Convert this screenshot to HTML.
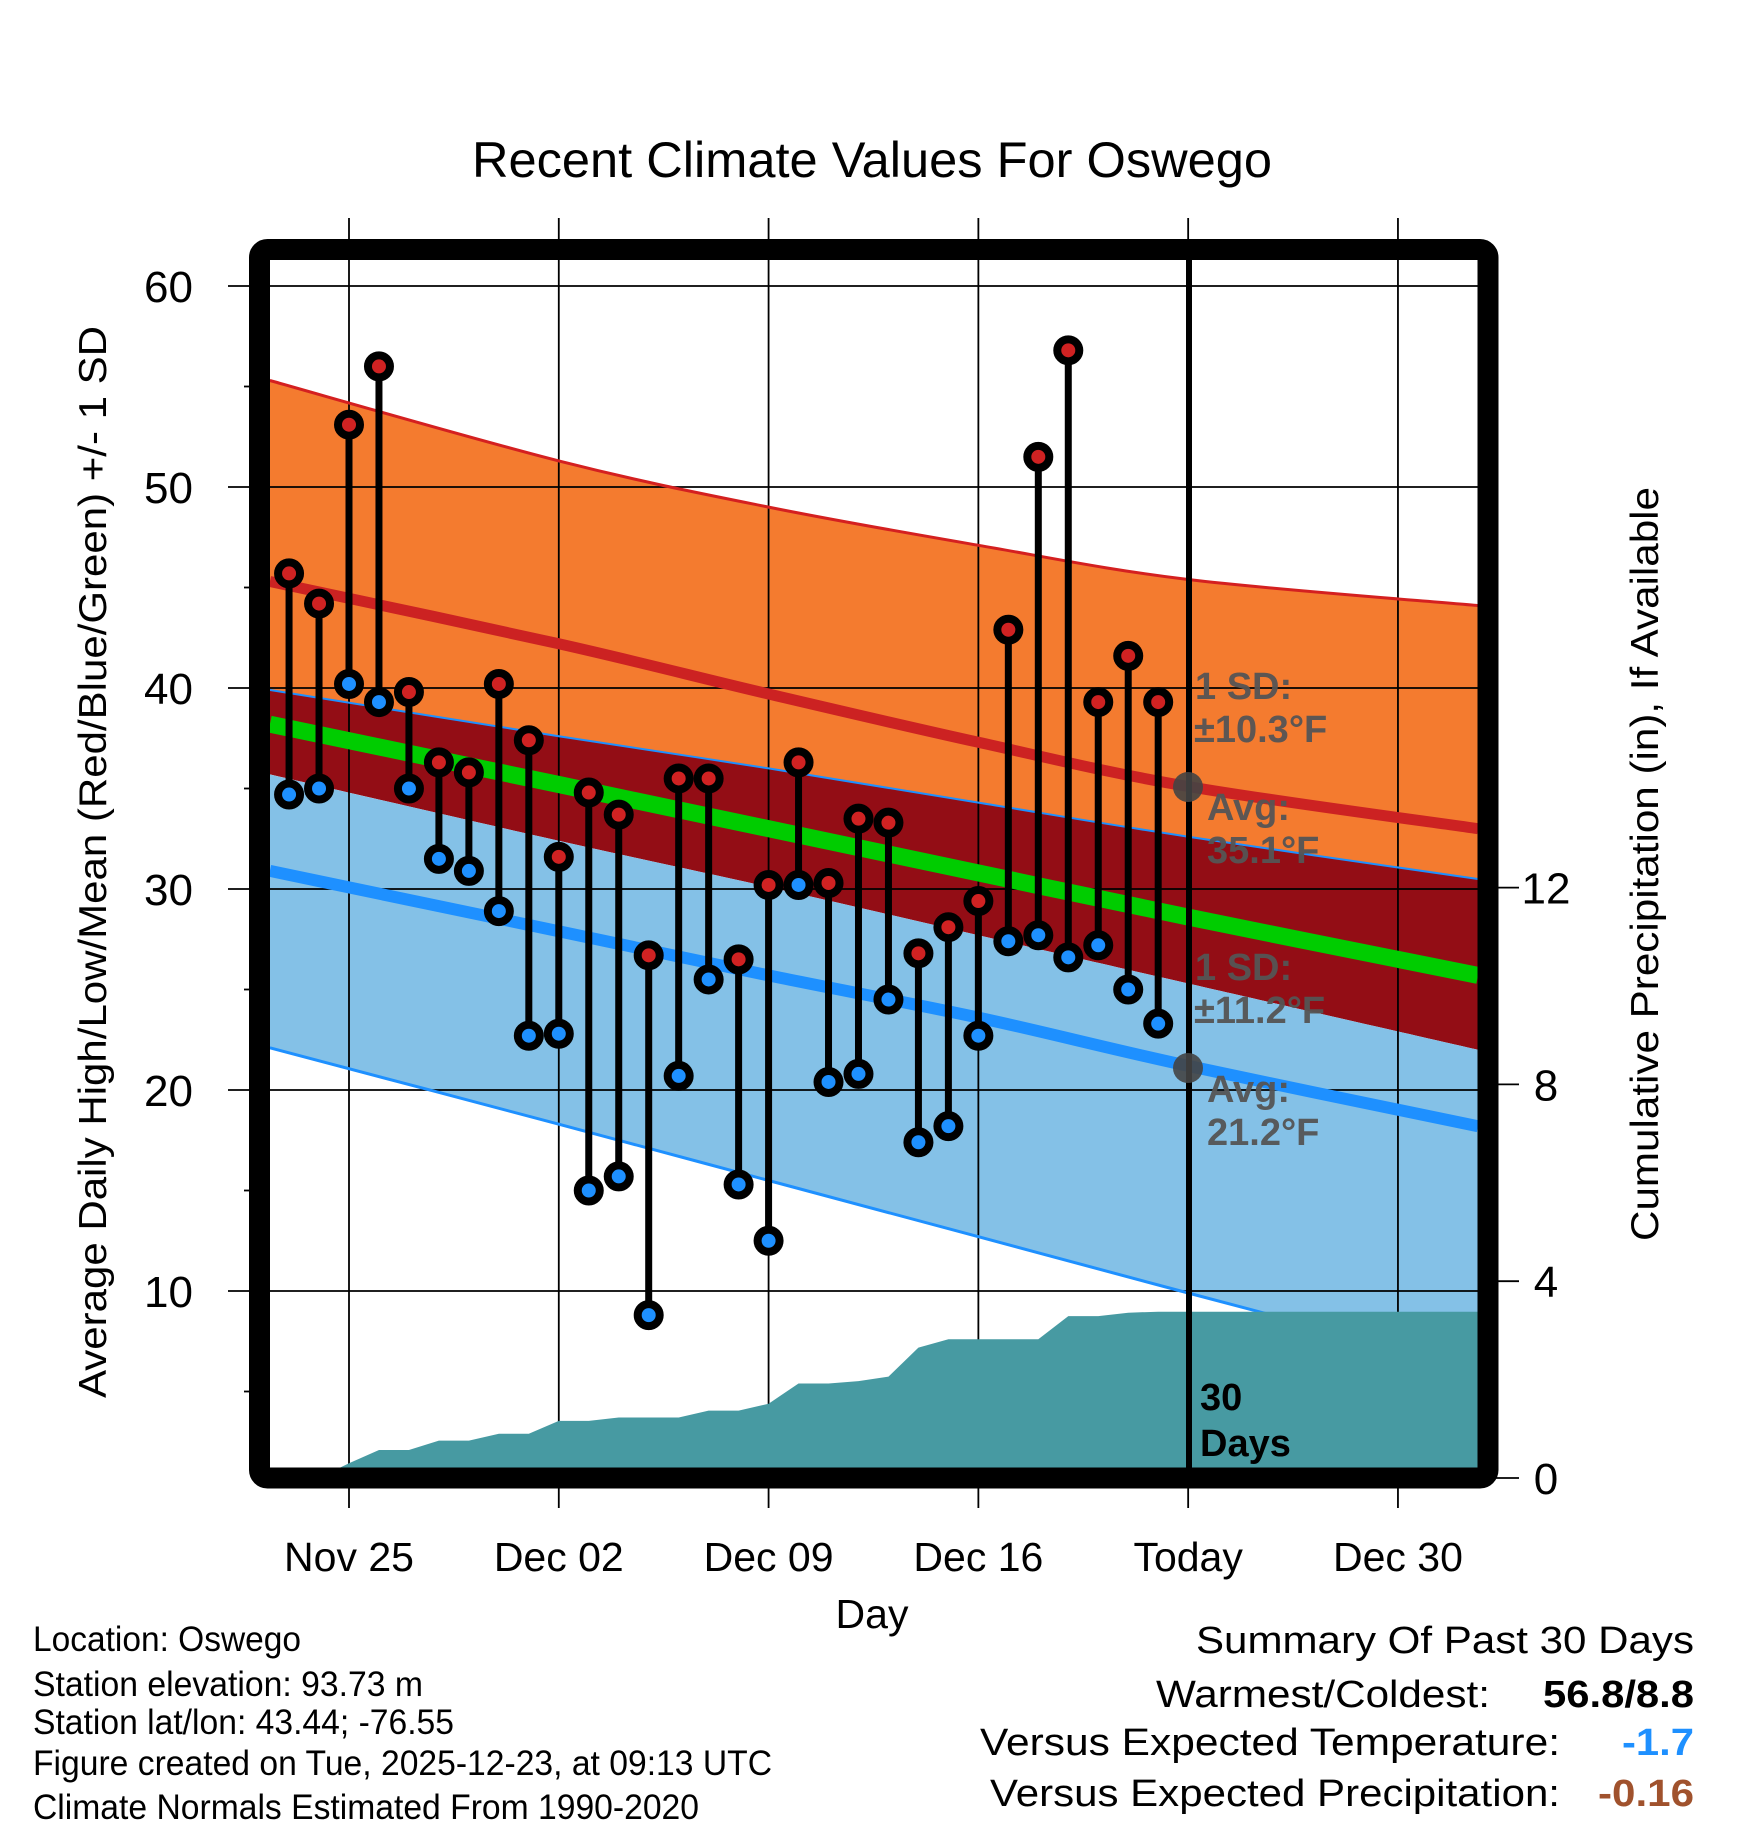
<!DOCTYPE html>
<html><head><meta charset="utf-8"><style>
html,body{margin:0;padding:0;background:#fff}
svg{display:block;font-family:"Liberation Sans",sans-serif}
</style></head><body>
<svg id="chart" width="1748" height="1828" viewBox="0 0 1748 1828" xmlns="http://www.w3.org/2000/svg">
<defs><clipPath id="plotclip"><rect x="270" y="260" width="1208" height="1208"/></clipPath></defs>
<text x="872" y="177" font-size="50" text-anchor="middle" textLength="800" lengthAdjust="spacingAndGlyphs">Recent Climate Values For Oswego</text>
<g id="bands" clip-path="url(#plotclip)"></g>
<g id="grid"></g>
<g id="lines" clip-path="url(#plotclip)"></g>
<g id="precip" clip-path="url(#plotclip)"></g>
<g id="temps"></g>
<g id="annot">
  <line x1="1189" y1="260" x2="1189" y2="1468" stroke="#000" stroke-width="6"/>
  <circle cx="1188" cy="787" r="15" fill="#444" opacity="0.9"/>
  <circle cx="1188" cy="1068" r="15" fill="#444" opacity="0.9"/>
  <g fill="#555" font-weight="bold" font-size="38" opacity="0.95">
    <text x="1195" y="699">1 SD:</text>
    <text x="1194" y="742">±10.3°F</text>
    <text x="1207" y="820">Avg:</text>
    <text x="1207" y="863">35.1°F</text>
    <text x="1195" y="980">1 SD:</text>
    <text x="1194" y="1023">±11.2°F</text>
    <text x="1207" y="1102">Avg:</text>
    <text x="1207" y="1145">21.2°F</text>
  </g>
  <text x="1200" y="1410" font-size="38" font-weight="bold">30</text>
  <text x="1200" y="1456" font-size="38" font-weight="bold">Days</text>
</g>
<rect x="259.5" y="249.5" width="1228.5" height="1228.5" rx="8" fill="none" stroke="#000" stroke-width="21"/>
<g id="axes"></g>
<text transform="translate(106,862) rotate(-90)" font-size="39" text-anchor="middle" textLength="1072" lengthAdjust="spacingAndGlyphs">Average Daily High/Low/Mean (Red/Blue/Green) +/- 1 SD</text>
<text transform="translate(1658,864) rotate(-90)" font-size="39" text-anchor="middle" textLength="754" lengthAdjust="spacingAndGlyphs">Cumulative Precipitation (in), If Available</text>
<text x="872" y="1628" font-size="41" text-anchor="middle">Day</text>
<g font-size="35">
  <text x="33" y="1651" textLength="268" lengthAdjust="spacingAndGlyphs">Location: Oswego</text>
  <text x="33" y="1696" textLength="390" lengthAdjust="spacingAndGlyphs">Station elevation: 93.73 m</text>
  <text x="33" y="1734" textLength="421" lengthAdjust="spacingAndGlyphs">Station lat/lon: 43.44; -76.55</text>
  <text x="33" y="1775" textLength="739" lengthAdjust="spacingAndGlyphs">Figure created on Tue, 2025-12-23, at 09:13 UTC</text>
  <text x="33" y="1819" textLength="666" lengthAdjust="spacingAndGlyphs">Climate Normals Estimated From 1990-2020</text>
</g>
<g font-size="38">
  <text x="1196" y="1653" textLength="498" lengthAdjust="spacingAndGlyphs">Summary Of Past 30 Days</text>
  <text x="1156" y="1707" textLength="334" lengthAdjust="spacingAndGlyphs">Warmest/Coldest:</text>
  <text x="1543" y="1707" font-weight="bold" textLength="151" lengthAdjust="spacingAndGlyphs">56.8/8.8</text>
  <text x="980" y="1755" textLength="580" lengthAdjust="spacingAndGlyphs">Versus Expected Temperature:</text>
  <text x="1622" y="1755" font-weight="bold" fill="#1e90ff" textLength="72" lengthAdjust="spacingAndGlyphs">-1.7</text>
  <text x="990" y="1806" textLength="570" lengthAdjust="spacingAndGlyphs">Versus Expected Precipitation:</text>
  <text x="1598" y="1806" font-weight="bold" fill="#a0522d" textLength="96" lengthAdjust="spacingAndGlyphs">-0.16</text>
</g>
</svg>
<script>
const days = [-2,-1,0,1,2,3,4,5,6,7,8,9,10,11,12,13,14,15,16,17,18,19,20,21,22,23,24,25,26,27];
const highs = [45.7,44.2,53.1,56.0,39.8,36.3,35.8,40.2,37.4,31.6,34.8,33.7,26.7,35.5,35.5,26.5,30.2,36.3,30.3,33.5,33.3,26.8,28.1,29.4,42.9,51.5,56.8,39.3,41.6,39.3];
const lows = [34.7,35.0,40.2,39.3,35.0,31.5,30.9,28.9,22.7,22.8,15.0,15.7,8.8,20.7,25.5,15.3,12.5,30.2,20.4,20.8,24.5,17.4,18.2,22.7,27.4,27.7,26.6,27.2,25.0,23.3];
const precipCum = [0,0,0.3,0.57,0.57,0.76,0.76,0.9,0.9,1.16,1.16,1.23,1.23,1.23,1.37,1.37,1.51,1.92,1.92,1.97,2.06,2.65,2.82,2.82,2.82,2.82,3.29,3.29,3.36,3.38];
const normDays = [-2.64,7,14,21,28,37.67];
const highUpper = [55.3,51.3,49.0,47.1,45.4,44.1];
const highAvg = [45.3,42.2,39.7,37.3,35.1,33.0];
const highLower = [39.9,37.6,36.0,34.3,32.6,30.5];
const meanAvg = [38.2,35.2,33.0,30.8,28.6,25.7];
const lowUpper = [35.7,32.4,30.1,27.7,25.3,22.0];
const lowAvg = [30.9,27.9,25.7,23.6,21.2,18.2];
const lowLower = [22.1,18.3,15.5,12.7,9.9,6.1];
const xTickDays = [0,7,14,21,28,35];
const xTickLabels = ["Nov 25","Dec 02","Dec 09","Dec 16","Today","Dec 30"];
const yTicks = [10,20,30,40,50,60];
const yMinorTicks = [5,15,25,35,45,55];
const pTicks = [0,4,8,12];

const NS = "http://www.w3.org/2000/svg";
const X = d => 349 + d * 29.97;
const Y = t => 286 + (60 - t) * 20.1;
const P = p => 1478 - p * 49.2;
function mk(tag, attrs, parent){const e=document.createElementNS(NS,tag);for(const k in attrs)e.setAttribute(k,attrs[k]);parent.appendChild(e);return e;}
function xy(arr){return normDays.map((d,i)=>[X(d),Y(arr[i])]);}
// Catmull-Rom smoothed path segment through points (no leading M)
function smooth(p){
  let s='';
  for(let i=0;i<p.length-1;i++){
    const p0=p[Math.max(0,i-1)],p1=p[i],p2=p[i+1],p3=p[Math.min(p.length-1,i+2)];
    const c1=[p1[0]+(p2[0]-p0[0])/6,p1[1]+(p2[1]-p0[1])/6];
    const c2=[p2[0]-(p3[0]-p1[0])/6,p2[1]-(p3[1]-p1[1])/6];
    s+=' C'+c1[0].toFixed(1)+','+c1[1].toFixed(1)+' '+c2[0].toFixed(1)+','+c2[1].toFixed(1)+' '+p2[0].toFixed(1)+','+p2[1].toFixed(1);
  }
  return s;
}
function pathOf(arr){const p=xy(arr);return 'M'+p[0][0].toFixed(1)+','+p[0][1].toFixed(1)+smooth(p);}
function band(top,bot,fill,name){
  const t=xy(top), b=xy(bot).reverse();
  const d='M'+t[0][0]+','+t[0][1]+smooth(t)+' L'+b[0][0]+','+b[0][1]+smooth(b)+' Z';
  const p = mk('path',{d:d,fill:fill},document.getElementById('bands'));
  
  
}
band(highUpper,highLower,'#f47b2f','high-sd-band');
band(highLower,lowUpper,'#930d15','overlap-band');
band(lowUpper,lowLower,'#84c1e7','low-sd-band');

const lines = document.getElementById('lines');
function line(arr,color,w,name){
  const p = mk('path',{d:pathOf(arr),fill:'none',stroke:color,'stroke-width':w},lines);
  
  
}
line(highUpper,'#d42020',3,'high-upper-line');
line(highLower,'#1e90ff',2,'high-lower-line');
line(lowLower,'#1e90ff',3,'low-lower-line');
line(meanAvg,'#00cc00',17,'mean-line');
line(highAvg,'#cc2222',11,'high-avg-line');
line(lowAvg,'#1e90ff',12,'low-avg-line');

const grid = document.getElementById('grid');
yTicks.forEach(t=>{
  const l = mk('line',{x1:228,x2:1478,y1:Y(t),y2:Y(t),stroke:'#000','stroke-width':1.8},grid);
  
  
});
xTickDays.forEach(d=>{
  const l = mk('line',{x1:X(d),x2:X(d),y1:218,y2:1508,stroke:'#000','stroke-width':1.8},grid);
  
  
});

const precip = document.getElementById('precip');
const pp = [X(days[0])+','+P(0)].concat(days.map((d,i)=>X(d).toFixed(1)+','+P(precipCum[i]).toFixed(1)));
pp.push('1480,'+P(precipCum[precipCum.length-1]).toFixed(1));
pp.push('1480,'+P(0));
const area = mk('polygon',{points:pp.join(' '),fill:'#479aa2'},precip);



const temps = document.getElementById('temps');
days.forEach((d,i)=>{
  const s = mk('line',{x1:X(d),x2:X(d),y1:Y(highs[i]),y2:Y(lows[i]),stroke:'#000','stroke-width':7},temps);
  
  
});
days.forEach((d,i)=>{
  const h = mk('circle',{cx:X(d),cy:Y(highs[i]),r:11,fill:'#d02222',stroke:'#000','stroke-width':8},temps);
  
  
  const l = mk('circle',{cx:X(d),cy:Y(lows[i]),r:11,fill:'#1e90ff',stroke:'#000','stroke-width':8},temps);
  
  
});

const axes = document.getElementById('axes');
yTicks.forEach(t=>{
  const tx = mk('text',{x:193,y:Y(t)+16,'font-size':44,'text-anchor':'end'},axes);
  tx.textContent = t;
  
  
});
yMinorTicks.forEach(t=>{
  const l = mk('line',{x1:244,x2:252,y1:Y(t),y2:Y(t),stroke:'#000','stroke-width':1.8},axes);
  
  
});
pTicks.forEach(p=>{
  const l = mk('line',{x1:1488,x2:1519,y1:P(p),y2:P(p),stroke:'#000','stroke-width':1.8},axes);
  
  
  const tx = mk('text',{x:1546,y:P(p)+16,'font-size':44,'text-anchor':'middle'},axes);
  tx.textContent = p;
  
  
});
xTickDays.forEach((d,i)=>{
  const tx = mk('text',{x:X(d),y:1571,'font-size':41,'text-anchor':'middle'},axes);
  tx.textContent = xTickLabels[i];
  
  
});
</script>
</body></html>
